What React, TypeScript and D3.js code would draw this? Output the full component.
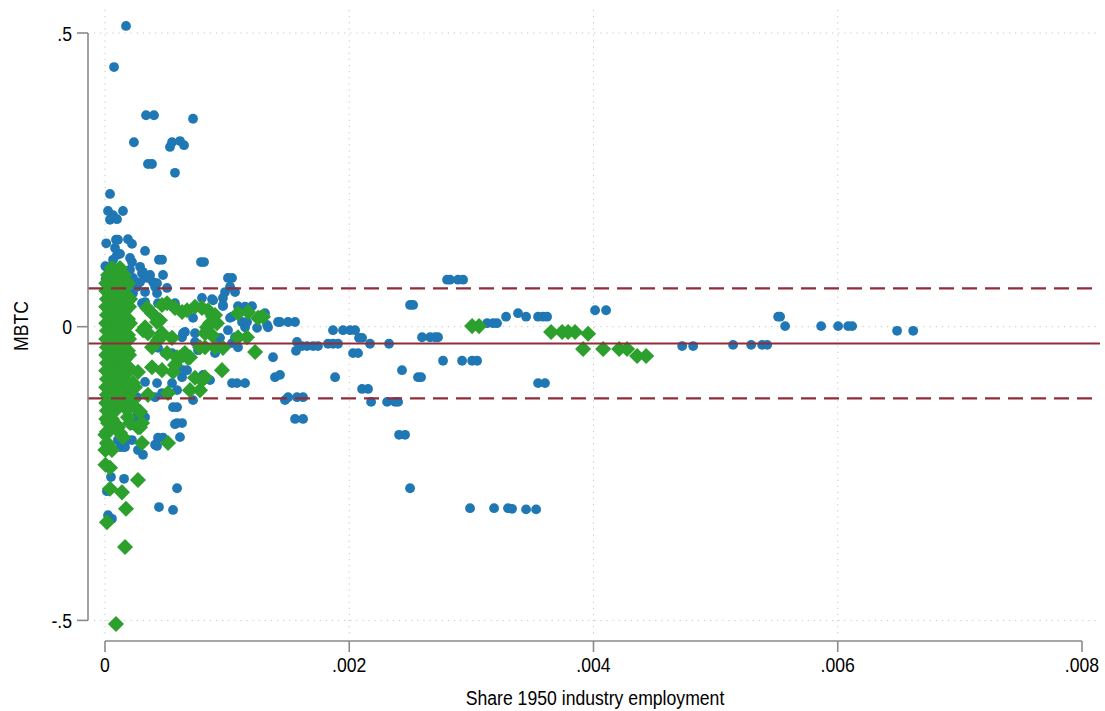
import * as d3 from "d3";

// share of 1950 industry employment (x) vs MBTC (y)
const blueTop: [number, number][] = [
  [0.000172, 0.512], [0.000074, 0.442], [0.000336, 0.36], [0.000401, 0.36], [0.000721, 0.354],
  [0.000237, 0.314], [0.000532, 0.306], [0.000549, 0.314], [0.000614, 0.316], [0.000647, 0.309],
  [0.000352, 0.277], [0.000385, 0.277], [0.000573, 0.262], [0.000041, 0.226], [0.000025, 0.197],
  [0.000066, 0.19], [0.000041, 0.182], [0.000098, 0.183], [0.000147, 0.197],
];

const blueUpper: [number, number][] = [
  [0.00001, 0.142], [0.00009, 0.148], [0.000106, 0.148], [0.000188, 0.149], [0.000221, 0.141],
  [0.000328, 0.129], [0.000082, 0.134], [0.000098, 0.122], [0.000123, 0.124], [0.000066, 0.114],
  [0.000205, 0.117], [0.000221, 0.11], [0.000442, 0.114], [0.000467, 0.114], [0.000786, 0.11],
  [0.000811, 0.11], [0.000287, 0.102], [0.000205, 0.097], [0.000003, 0.103], [0.000475, 0.088],
  [0.000303, 0.091], [0.000344, 0.083], [0.000229, 0.083], [0.000005, 0.081], [0.000393, 0.076],
  [0.00041, 0.068], [0.000508, 0.066], [0.000262, 0.068], [0.001007, 0.083], [0.00104, 0.083],
  [0.001024, 0.068], [0.000983, 0.059], [0.001065, 0.059], [0.000328, 0.059], [0.000426, 0.057],
  [0.000229, 0.057], [0.000966, 0.049], [0.000794, 0.049], [0.000876, 0.047], [0.000573, 0.04],
  [0.000966, 0.035], [0.001089, 0.035], [0.001204, 0.035], [0.000303, 0.04], [0.000016, 0.102],
  [0.000369, 0.088], [0.000311, 0.093], [0.000016, 0.08], [0.000426, 0.074], [0.000287, 0.076],
];

const blueMiddle: [number, number][] = [
  [0.000328, 0.042], [0.000434, 0.04], [0.000966, 0.037], [0.00104, 0.017], [0.001122, 0.008],
  [0.001286, 0.02], [0.001335, -0.001], [0.001417, 0.008], [0.001499, 0.008], [0.001556, 0.008],
  [0.001147, -0.001], [0.000737, -0.011], [0.000819, -0.009], [0.000655, -0.009], [0.000631, -0.018],
  [0.001007, -0.006], [0.001065, -0.018], [0.00104, -0.028], [0.000737, -0.026], [0.000925, -0.023],
  [0.000762, -0.04], [0.001089, -0.035], [0.000549, -0.045], [0.000598, -0.057], [0.000491, -0.045],
  [0.000434, -0.036], [0.001376, -0.052], [0.001392, -0.086], [0.000631, -0.086], [0.000672, -0.074],
  [0.000426, -0.096], [0.000328, -0.094], [0.000549, -0.096], [0.00104, -0.096], [0.001081, -0.096],
  [0.001147, -0.096], [0.00041, -0.12], [0.000467, -0.113], [0.00059, -0.108], [0.000721, -0.125],
  [0.000557, -0.137], [0.00059, -0.137], [0.000221, -0.113], [0.000262, -0.12], [0.000139, -0.125],
  [0.00059, -0.164], [0.000631, -0.164], [0.000328, -0.154], [0.000246, -0.155], [0.001024, 0.015],
  [0.001163, 0.008], [0.001245, -0.002], [0.001327, 0.003], [0.000721, 0.015], [0.000639, -0.011],
  [0.000942, -0.019], [0.000901, -0.045], [0.000639, -0.074], [0.00086, -0.091], [0.000803, -0.082],
  [0.00131, 0.023], [0.001147, 0.034], [0.000885, 0.045],
];

const blueLower: [number, number][] = [
  [0.000221, -0.168], [0.000106, -0.193], [0.000147, -0.205], [0.00027, -0.21], [0.000311, -0.218],
  [0.000221, -0.193], [0.00041, -0.201], [0.000573, -0.166], [0.000614, -0.188], [0.000434, -0.189],
  [0.000475, -0.189], [0.000426, -0.203], [0.000123, -0.205], [0.000164, -0.205], [0.000188, -0.193],
  [0.000049, -0.256], [0.000156, -0.259], [0.000016, -0.28], [0.00059, -0.275], [0.000442, -0.307],
  [0.000557, -0.312], [0.000025, -0.321], [0.000057, -0.327],
];

const blueTail: [number, number][] = [
  [0.001433, 0.008], [0.001867, -0.006], [0.001949, -0.006], [0.002007, -0.006], [0.002048, -0.006],
  [0.00208, -0.019], [0.002105, -0.019], [0.00217, -0.029], [0.002326, -0.029], [0.001572, -0.026],
  [0.001613, -0.033], [0.001654, -0.033], [0.001704, -0.033], [0.001744, -0.033], [0.001826, -0.029],
  [0.001867, -0.029], [0.001908, -0.029], [0.001564, -0.041], [0.002031, -0.045], [0.002072, -0.045],
  [0.001433, -0.082], [0.001884, -0.086], [0.002105, -0.106], [0.002154, -0.106], [0.002179, -0.128],
  [0.001474, -0.125], [0.001499, -0.12], [0.001572, -0.12], [0.001622, -0.12], [0.001556, -0.157],
  [0.001622, -0.157], [0.00231, -0.128], [0.002375, -0.128], [0.0024, -0.128], [0.002408, -0.184],
  [0.002457, -0.184], [0.002498, -0.275], [0.002498, 0.037], [0.002523, 0.037], [0.002432, -0.074],
  [0.002563, -0.086], [0.002588, -0.086], [0.002596, -0.018], [0.002662, -0.018], [0.002703, -0.018],
  [0.002727, -0.018], [0.002768, -0.058], [0.002924, -0.058], [0.003006, -0.058], [0.003047, -0.058],
  [0.002801, 0.08], [0.002825, 0.08], [0.002891, 0.08], [0.002932, 0.08], [0.003129, 0.006],
  [0.003178, 0.006], [0.00321, 0.006], [0.003284, 0.017], [0.003382, 0.023], [0.003448, 0.017],
  [0.003546, 0.017], [0.003587, 0.017], [0.00362, 0.017], [0.003546, -0.096], [0.003603, -0.096],
  [0.002989, -0.309], [0.003186, -0.309], [0.0033, -0.309], [0.003333, -0.31], [0.003448, -0.311],
  [0.00353, -0.311], [0.004013, 0.028], [0.004103, 0.028], [0.004726, -0.033], [0.004816, -0.033],
  [0.005143, -0.031], [0.005291, -0.031], [0.005381, -0.031], [0.005422, -0.031], [0.005512, 0.017],
  [0.005528, 0.017], [0.005569, 0.001], [0.005864, 0.001], [0.006003, 0.001], [0.006085, 0.001],
  [0.006118, 0.001], [0.006486, -0.007], [0.006618, -0.007],
];

const greenColumn: [number, number][] = [
  [0.000057, 0.1], [0.000123, 0.1], [0.00009, 0.094],
  [0.000025, 0.088], [0.00009, 0.088], [0.000156, 0.088], [0.000041, 0.081], [0.000115, 0.081],
  [0.00001, 0.074], [0.000066, 0.074], [0.000131, 0.074], [0.000188, 0.074], [0.000041, 0.067], [0.000106, 0.067], [0.000164, 0.067],
  [0.00001, 0.061], [0.000074, 0.061], [0.000139, 0.061], [0.000041, 0.054], [0.000106, 0.054], [0.000172, 0.054],
  [0.000016, 0.047], [0.000082, 0.047], [0.000147, 0.047], [0.000205, 0.047], [0.000049, 0.041], [0.000115, 0.041], [0.000172, 0.041],
  [0.00001, 0.034], [0.000066, 0.034], [0.000131, 0.034], [0.000197, 0.034], [0.000041, 0.027], [0.000106, 0.027], [0.000164, 0.027],
  [0.000016, 0.02], [0.000082, 0.02], [0.000147, 0.02], [0.000049, 0.013], [0.000115, 0.013], [0.000188, 0.013],
  [0.00001, 0.006], [0.000066, 0.006], [0.000131, 0.006], [0.000205, 0.006], [0.000041, -0.001], [0.000106, -0.001], [0.000172, -0.001],
  [0.000016, -0.007], [0.000082, -0.007], [0.000147, -0.007], [0.000049, -0.014], [0.000115, -0.014], [0.000188, -0.014],
  [0.00001, -0.021], [0.000066, -0.021], [0.000131, -0.021], [0.000197, -0.021], [0.000041, -0.028], [0.000106, -0.028], [0.000164, -0.028],
  [0.000016, -0.035], [0.000082, -0.035], [0.000147, -0.035], [0.000049, -0.041], [0.000115, -0.041], [0.000188, -0.041],
  [0.00001, -0.048], [0.000066, -0.048], [0.000131, -0.048], [0.000197, -0.048], [0.000041, -0.055], [0.000106, -0.055], [0.000164, -0.055],
  [0.000016, -0.062], [0.000082, -0.062], [0.000147, -0.062], [0.000049, -0.068], [0.000115, -0.068], [0.000188, -0.068],
  [0.00001, -0.075], [0.000066, -0.075], [0.000131, -0.075], [0.000197, -0.075], [0.000041, -0.082], [0.000106, -0.082], [0.000164, -0.082],
  [0.000016, -0.089], [0.000082, -0.089], [0.000147, -0.089], [0.000049, -0.096], [0.000115, -0.096],
  [0.00001, -0.103], [0.000066, -0.103], [0.000131, -0.103], [0.000041, -0.109], [0.000106, -0.109], [0.000164, -0.109],
  [0.000016, -0.116], [0.000082, -0.116], [0.000147, -0.116], [0.000188, -0.116], [0.000041, -0.123], [0.000098, -0.123],
  [0.00001, -0.13], [0.000066, -0.13], [0.000123, -0.13], [0.000041, -0.137], [0.000098, -0.137],
  [0.000016, -0.143], [0.000082, -0.143], [0.000041, -0.15],
  [0.00001, -0.157], [0.000057, -0.157],
  [0.000003, -0.21], [0.000057, -0.21],
];

const greenSpread: [number, number][] = [
  [0.000467, 0.037], [0.000385, 0.023], [0.000328, -0.001], [0.000426, 0.008], [0.000573, 0.032],
  [0.000672, 0.028], [0.000737, 0.034], [0.000794, 0.032], [0.000844, 0.028], [0.000901, 0.02],
  [0.00086, 0.006], [0.000819, -0.011], [0.000819, -0.035], [0.000901, -0.035], [0.000966, -0.036],
  [0.001089, 0.023], [0.001171, 0.025], [0.001253, 0.015], [0.001089, -0.018], [0.001163, -0.018],
  [0.001229, -0.043], [0.000958, -0.074], [0.000737, -0.087], [0.000794, -0.091], [0.000696, -0.108],
  [0.000778, -0.108], [0.000516, -0.113], [0.000352, -0.116], [0.000655, -0.045], [0.00068, -0.053],
  [0.000573, -0.065], [0.000467, -0.074], [0.000385, -0.069], [0.00027, -0.077], [0.000246, -0.103],
  [0.000246, -0.137], [0.000188, -0.154], [0.000303, -0.164], [0.000549, -0.019], [0.000434, -0.023],
  [0.000352, -0.011], [0.000467, -0.011], [0.000508, 0.04], [0.000344, 0.032], [0.00045, 0.011],
  [0.000311, -0.006], [0.00045, -0.018], [0.000385, -0.035], [0.000508, -0.045], [0.000614, -0.052],
  [0.000557, -0.077], [0.000229, -0.096], [0.000229, -0.125], [0.00018, -0.141], [0.000287, -0.145],
  [0.000098, -0.168], [0.00027, -0.171], [0.000016, -0.179], [0.000016, -0.198], [0.000147, -0.188],
  [0.000303, -0.198], [0.000516, -0.198], [0.000631, 0.025], [0.00059, -0.052], [0.000819, -0.086],
  [0.000885, 0.017], [0.000835, -0.001], [0.000917, 0.006], [0.001294, 0.017], [0.000876, -0.014],
  [0.000778, -0.035], [0.000639, -0.048], [0.000696, -0.052],
];

const greenLower: [number, number][] = [
  [0.000025, -0.164], [0.000106, -0.171], [0.000205, -0.164], [0.000287, -0.171], [0.000003, -0.184],
  [0.000123, -0.181], [0.000025, -0.2], [0.000004, -0.235], [0.000041, -0.24], [0.00027, -0.261],
  [0.000041, -0.276], [0.000139, -0.282], [0.000172, -0.31], [0.000016, -0.333], [0.000164, -0.375],
  [0.00009, -0.506],
];

const greenTail: [number, number][] = [
  [0.003006, 0.001], [0.003063, 0.001], [0.003653, -0.009], [0.003743, -0.009], [0.003792, -0.009],
  [0.003849, -0.009], [0.003956, -0.012], [0.003915, -0.038], [0.004079, -0.038], [0.00421, -0.038],
  [0.004275, -0.038], [0.004357, -0.05], [0.004431, -0.05],
];

const meanLine = -0.0286;
const bandLines = [0.0654, -0.122];

const xTicks = [0, 0.002, 0.004, 0.006, 0.008];
const xTickLabels = ["0", ".002", ".004", ".006", ".008"];
const yTicks = [0.5, 0, -0.5];
const yTickLabels = [".5", "0", "-.5"];

const width = 1105;
const height = 711;
const font = "'Liberation Sans', Arial, sans-serif";
const narrow = 0.84; // squeeze to look like Helvetica Narrow

// narrow text helper
const Label = ({ x, y, anchor, rotate, children }: any) => (
  <g transform={`translate(${x},${y})${rotate ? ` rotate(${rotate})` : ""} scale(${narrow},1)`}>
    <text textAnchor={anchor} fontSize={21} fill="#000">{children}</text>
  </g>
);

export default function App() {
  const x = d3.scaleLinear().domain([0, 0.008]).range([105, 1082]);
  const y = d3.scaleLinear().domain([-0.5, 0.5]).range([620.4, 33]);

  const plotLeft = 88;
  const plotRight = 1100;
  const plotTop = 10;
  const plotBottom = 636;
  const xAxisY = 641;

  const diamond = d3.symbol().type(d3.symbolDiamond2).size(165)();

  const blue = [...blueTop, ...blueUpper, ...blueMiddle, ...blueLower, ...blueTail];
  const green = [...greenColumn, ...greenSpread, ...greenLower, ...greenTail];

  return (
    <svg
      width={width}
      height={height}
      style={{ position: "absolute", left: 0, top: 0, background: "#fff" }}
      fontFamily={font}
    >
      {/* grid */}
      {xTicks.slice(0, 4).map((t) => (
        <line key={"gx" + t} x1={x(t)} x2={x(t)} y1={plotTop} y2={plotBottom}
          stroke="#c4c4c4" strokeWidth={1} strokeDasharray="1.2 4.9" />
      ))}
      {yTicks.map((t) => (
        <line key={"gy" + t} x1={94} x2={plotRight} y1={y(t)} y2={y(t)}
          stroke="#c4c4c4" strokeWidth={1} strokeDasharray="1.2 4.9" />
      ))}

      {/* points */}
      {blue.map((d, i) => (
        <circle key={"b" + i} cx={x(d[0])} cy={y(d[1])} r={4.9} fill="#1f77b4" />
      ))}
      {green.map((d, i) => (
        <path key={"g" + i} d={diamond!} transform={`translate(${x(d[0])},${y(d[1])})`} fill="#2ca02c" />
      ))}

      {/* reference lines */}
      <line x1={plotLeft} x2={plotRight} y1={y(meanLine)} y2={y(meanLine)} stroke="#8f2d3b" strokeWidth={2.2} />
      {bandLines.map((v) => (
        <line key={"band" + v} x1={plotLeft} x2={plotRight} y1={y(v)} y2={y(v)}
          stroke="#8f2d3b" strokeWidth={2.2} strokeDasharray="15 8" />
      ))}

      {/* y axis */}
      <line x1={plotLeft} x2={plotLeft} y1={y(0.5)} y2={y(-0.5)} stroke="#8a8a8a" strokeWidth={1.6} />
      {yTicks.map((t, i) => (
        <g key={"yt" + t}>
          <line x1={plotLeft - 11} x2={plotLeft} y1={y(t)} y2={y(t)} stroke="#8a8a8a" strokeWidth={1.6} />
          <Label x={72} y={y(t) + 7.5} anchor="end">{yTickLabels[i]}</Label>
        </g>
      ))}
      <Label x={28} y={326} anchor="middle" rotate={-90}>MBTC</Label>

      {/* x axis */}
      <line x1={x(0)} x2={x(0.008)} y1={xAxisY} y2={xAxisY} stroke="#8a8a8a" strokeWidth={1.6} />
      {xTicks.map((t, i) => (
        <g key={"xt" + t}>
          <line x1={x(t)} x2={x(t)} y1={xAxisY} y2={xAxisY + 11} stroke="#8a8a8a" strokeWidth={1.6} />
          <Label x={x(t)} y={672} anchor="middle">{xTickLabels[i]}</Label>
        </g>
      ))}
      <Label x={595} y={705} anchor="middle">Share 1950 industry employment</Label>
    </svg>
  );
}
